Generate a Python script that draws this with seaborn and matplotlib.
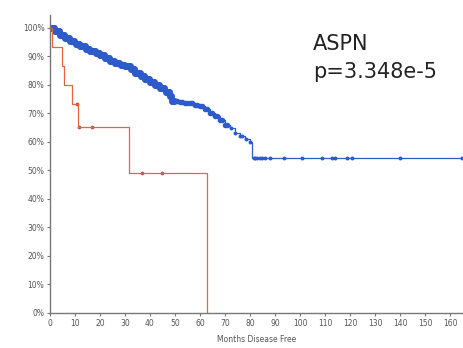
import numpy as np
import pandas as pd
import matplotlib
matplotlib.use("Agg")
import matplotlib.pyplot as plt
import seaborn as sns
from matplotlib.ticker import PercentFormatter

# Blue group (ASPN low): step curve knots
blue_t = [0, 2, 4, 6, 8, 10, 12, 14, 16, 18, 20, 22, 24, 26, 28, 30, 32, 34, 36, 38,
          40, 42, 44, 46, 48, 49, 52, 54, 56, 58, 60, 62, 64, 66, 68, 70, 72, 74, 76,
          78, 80, 81, 165]
blue_s = [1.00, 0.99, 0.975, 0.965, 0.955, 0.945, 0.935, 0.925, 0.92, 0.91, 0.905,
          0.895, 0.885, 0.875, 0.87, 0.865, 0.855, 0.84, 0.83, 0.82, 0.81, 0.80, 0.79,
          0.775, 0.76, 0.745, 0.74, 0.737, 0.735, 0.73, 0.725, 0.715, 0.70, 0.69,
          0.677, 0.66, 0.647, 0.63, 0.62, 0.61, 0.60, 0.544, 0.544]
# censored times, dense early part
blue_cens_early = [0.3, 0.8, 1.2, 1.7, 2.2, 2.6, 3.1, 3.5, 4.0, 4.4, 4.9, 5.3, 5.8, 6.2,
                   6.7, 7.1, 7.6, 8.0, 8.5, 8.9, 9.4, 9.8, 10.3, 10.7, 11.2, 11.6, 12.1,
                   12.5, 13.0, 13.4, 13.9, 14.3, 14.8, 15.2, 15.7, 16.1, 16.6, 17.0, 17.5,
                   17.9, 18.4, 18.8, 19.3, 19.7, 20.2, 20.6, 21.1, 21.5, 22.0, 22.4, 22.9,
                   23.3, 23.8, 24.2, 24.7, 25.1, 25.6, 26.0, 26.5, 26.9, 27.4, 27.8, 28.3,
                   28.7, 29.2, 29.6, 30.1, 30.5, 31.0, 31.4, 31.9, 32.3, 32.8, 33.2, 33.7,
                   34.1, 34.6, 35.0, 35.5, 35.9, 36.4, 36.8, 37.3, 37.7, 38.2, 38.6, 39.1,
                   39.5, 40.0, 40.4, 40.9, 41.3, 41.8, 42.2, 42.7, 43.1, 43.6, 44.0, 44.5,
                   44.9, 45.4, 45.8, 46.3, 46.7, 47.2, 47.6, 48.1, 48.5, 49.0, 49.5]
blue_cens_mid = [50, 51, 52, 53, 54, 55, 56, 57, 58, 59, 60, 61, 62, 63, 64, 65, 66, 67,
                 68, 69, 70, 71]
blue_cens_late = [72.5, 74, 76, 77, 78.5, 80, 81.5, 82, 83, 84, 85, 86, 88, 93.5, 101,
                  109, 113, 114, 119, 121, 140, 165]

# Red group (ASPN high)
red_t = [0, 1, 4.7, 5.7, 8.7, 11.3, 31.6, 63]
red_s = [1.00, 0.933, 0.867, 0.80, 0.733, 0.653, 0.49, 0.0]
red_cens = [10.8, 11.5, 17, 37, 45]

def step_at(ts, ss, x):
    idx = np.searchsorted(ts, x, side="right") - 1
    return np.asarray(ss)[idx]

def cens_df(times):
    return pd.DataFrame({"t": times, "s": step_at(blue_t, blue_s, times)})

blue_df = pd.DataFrame({"t": blue_t, "s": blue_s})
red_df = pd.DataFrame({"t": red_t, "s": red_s})
red_c = pd.DataFrame({"t": red_cens, "s": step_at(red_t, red_s, red_cens)})

sns.set_style("white")
fig = plt.figure(figsize=(4.64, 3.48), dpi=100)
ax = fig.add_axes([50/464, 1 - 313/348, 412.5/464, (313 - 15)/348])

blue = "#2d5bc9"
red = "#e8643f"
sns.lineplot(data=blue_df, x="t", y="s", drawstyle="steps-post", color=blue, lw=0.9, ax=ax)
sns.lineplot(data=red_df, x="t", y="s", drawstyle="steps-post", color=red, lw=0.9, ax=ax)
sns.scatterplot(data=cens_df(blue_cens_early), x="t", y="s", color=blue, s=26,
                marker="o", linewidth=0, ax=ax)
sns.scatterplot(data=cens_df(blue_cens_mid), x="t", y="s", color=blue, s=16,
                marker="o", linewidth=0, ax=ax)
sns.scatterplot(data=cens_df(blue_cens_late), x="t", y="s", color=blue, s=8,
                marker="o", linewidth=0, ax=ax)
sns.scatterplot(data=red_c, x="t", y="s", color="#b84a3a", s=7, marker="o", linewidth=0, ax=ax)

ax.set_xlim(0, 165)
ax.set_ylim(0, 1.045)
ax.set_xticks(np.arange(0, 161, 10))
ax.set_yticks(np.arange(0, 1.01, 0.1))
ax.yaxis.set_major_formatter(PercentFormatter(1.0, decimals=0))
for sp in ["top", "right"]:
    ax.spines[sp].set_visible(False)
for sp in ["left", "bottom"]:
    ax.spines[sp].set_color("#777777")
    ax.spines[sp].set_linewidth(1.0)
ax.tick_params(axis="both", labelsize=5.5, labelcolor="#555555", color="#777777",
               length=2.5, width=0.8, direction="out", pad=1.5)
ax.tick_params(axis="x", bottom=True)
ax.tick_params(axis="y", left=True)
ax.set_xlabel("Months Disease Free", fontsize=5.5, color="#555555", labelpad=5)
ax.set_ylabel("")

fig.text(313/464, 1 - 50/348, "ASPN", fontsize=15, color="#222222", family="DejaVu Sans")
fig.text(313/464, 1 - 78/348, "p=3.348e-5", fontsize=15, color="#222222", family="DejaVu Sans")

fig.savefig("out.png", dpi=100)
